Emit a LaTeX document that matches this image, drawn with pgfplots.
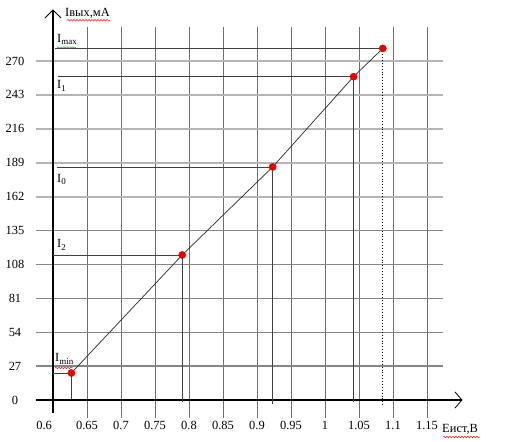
\documentclass[border=0pt]{standalone}
\usepackage{pgfplots}
\pgfplotsset{compat=1.18}
\usepackage{fontspec}
\setmainfont{Liberation Serif}
\usetikzlibrary{decorations.pathmorphing}
\definecolor{vgrid}{HTML}{6E6E6E}
\definecolor{hgridA}{HTML}{B4B4B4}
\definecolor{hgridB}{HTML}{858585}
\definecolor{refl}{HTML}{404040}
\definecolor{pt}{HTML}{E80000}
\definecolor{spellg}{HTML}{2E9E2E}
\begin{document}
\begin{tikzpicture}[font=\fontsize{12.5}{14}\selectfont]
\begin{axis}[
  width=509bp, height=441bp, scale only axis,
  xmin=0.52206, xmax=1.27059, ymin=-32.65, ymax=318.57,
  axis lines=none, clip=false,
]
\path (rel axis cs:0,0) rectangle (rel axis cs:1,1);
% vertical grid
\pgfplotsinvokeforeach{0.65,0.7,0.75,0.8,0.85,0.9,0.95,1,1.05,1.1,1.15}{
  \draw[vgrid, line width=1bp] (axis cs:#1,-14.3) -- (axis cs:#1,297.1);
}
% horizontal grid
\pgfplotsinvokeforeach{162,189,216,243,270}{
  \draw[hgridA, line width=2bp] (axis cs:0.575,#1) -- (axis cs:1.1735,#1);
}
\pgfplotsinvokeforeach{27,54,81,108,135}{
  \draw[hgridB, line width=1.3bp] (axis cs:0.575,#1) -- (axis cs:1.1735,#1);
}
% axes with open arrows
\draw[black, line width=1.1bp] (axis cs:0.6,-10.35) -- (axis cs:0.6,310.6);
\draw[black, line width=0.8bp] (axis cs:0.5882,304.2) -- (axis cs:0.6,310.6) -- (axis cs:0.6118,304.2);
\draw[black, line width=1.1bp] (axis cs:0.575,0) -- (axis cs:1.2015,0);
\draw[black, line width=0.8bp] (axis cs:1.1912,6.4) -- (axis cs:1.2015,0) -- (axis cs:1.1912,-6.4);
% reference lines
\addplot[refl, line width=0.9bp] coordinates {(0.6030,280.3) (1.085,280.3)};
\addplot[refl, line width=0.9bp] coordinates {(0.6074,257.5) (1.042,257.5)};
\addplot[refl, line width=0.9bp] coordinates {(0.6059,185.6) (0.923,185.6)};
\addplot[refl, line width=0.9bp] coordinates {(0.6,115.5) (0.790,115.5)};
\addplot[refl, line width=0.9bp] coordinates {(0.6,21.5) (0.627,21.5)};
\addplot[refl, line width=0.9bp] coordinates {(0.627,21.5) (0.627,0.8)};
\addplot[refl, line width=0.9bp] coordinates {(0.790,115.5) (0.790,-1.6)};
\addplot[refl, line width=0.9bp] coordinates {(0.923,185.6) (0.923,-3.2)};
\addplot[refl, line width=0.9bp] coordinates {(1.042,257.5) (1.042,-1.6)};
\addplot[black, line width=0.9bp, dotted] coordinates {(1.085,280) (1.085,-4.8)};
% characteristic
\addplot[black!85, line width=0.7bp] coordinates {(0.627,21.5) (0.790,115.5) (0.923,185.6) (1.042,257.5) (1.085,280)};
\addplot[only marks, mark=*, mark size=3.6bp, mark options={fill=pt, draw=pt}] coordinates {(0.627,21.5) (0.790,115.5) (0.923,185.6) (1.042,257.5) (1.085,280)};
% y tick labels
\pgfplotsinvokeforeach{0,27,54,81,108,135,162,189,216,243,270}{
  \node[anchor=center, inner sep=0pt] at (axis cs:0.5441,#1) {#1};
}
% x tick labels
\node[anchor=center, inner sep=0pt] at (axis cs:0.587,-19.9) {0.6};
\pgfplotsinvokeforeach{0.65,0.7,0.75,0.8,0.85,0.9,0.95,1,1.05,1.1,1.15}{
  \node[anchor=center, inner sep=0pt] at (axis cs:#1,-19.9) {#1};
}
% axis titles
\node[anchor=base west, inner sep=0pt] at (axis cs:0.6176,305.7) {Iвых,мА};
\draw[red, line width=0.5bp, decorate, decoration={snake, segment length=3bp, amplitude=0.8bp}] (axis cs:0.6206,302.4) -- (axis cs:0.6838,302.4);
\node[anchor=base west, inner sep=0pt] at (axis cs:1.1721,-25.5) {Eист,В};
\draw[red, line width=0.5bp, decorate, decoration={snake, segment length=3bp, amplitude=0.8bp}] (axis cs:1.1735,-29.5) -- (axis cs:1.2279,-29.5);
% I labels
\node[anchor=base west, inner sep=0pt] at (axis cs:0.6059,285.1) {I\raisebox{-2.5bp}{\fontsize{9}{10}\selectfont max}};
\draw[spellg, line width=0.5bp, decorate, decoration={snake, segment length=3bp, amplitude=0.7bp}] (axis cs:0.6059,280.8) -- (axis cs:0.6338,280.8);
\node[anchor=base west, inner sep=0pt] at (axis cs:0.6059,247.7) {I\raisebox{-2.5bp}{\fontsize{9}{10}\selectfont 1}};
\node[anchor=base west, inner sep=0pt] at (axis cs:0.6059,173.6) {I\raisebox{-2.5bp}{\fontsize{9}{10}\selectfont 0}};
\node[anchor=base west, inner sep=0pt] at (axis cs:0.6059,121.1) {I\raisebox{-2.5bp}{\fontsize{9}{10}\selectfont 2}};
\node[anchor=base west, inner sep=0pt] at (axis cs:0.6029,30.3) {I\raisebox{-2.5bp}{\fontsize{9}{10}\selectfont min}};
\draw[red, line width=0.5bp, decorate, decoration={snake, segment length=3bp, amplitude=0.7bp}] (axis cs:0.6029,25.5) -- (axis cs:0.6294,25.5);
\end{axis}
\end{tikzpicture}
\end{document}
